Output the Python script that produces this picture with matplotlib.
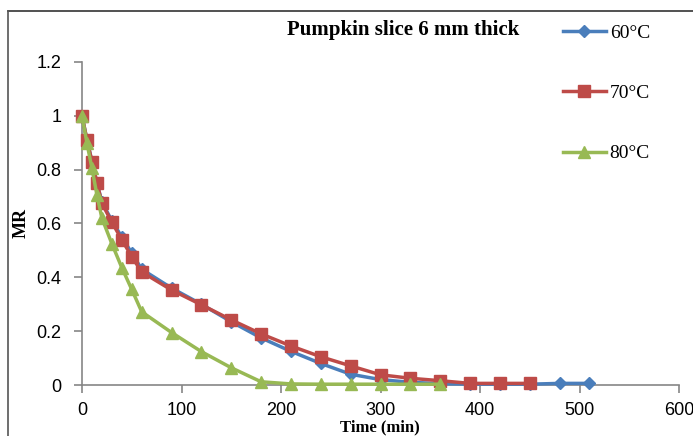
import matplotlib.pyplot as plt
from matplotlib.lines import Line2D

# 数据
t_60 = [0, 5, 10, 15, 20, 30, 40, 50, 60, 90, 120, 150, 180, 210, 240, 270, 300, 330, 360, 390, 420, 450, 480, 510]
mr_60 = [1.0, 0.91, 0.83, 0.75, 0.68, 0.61, 0.55, 0.49, 0.43, 0.36, 0.30, 0.235, 0.175, 0.125, 0.08,
         0.04, 0.02, 0.01, 0.005, 0.003, 0.003, 0.003, 0.006, 0.006]
t_70 = [0, 5, 10, 15, 20, 30, 40, 50, 60, 90, 120, 150, 180, 210, 240, 270, 300, 330, 360, 390, 420, 450]
mr_70 = [1.0, 0.91, 0.83, 0.752, 0.675, 0.605, 0.54, 0.477, 0.42, 0.353, 0.298, 0.242, 0.19, 0.145,
         0.105, 0.071, 0.038, 0.025, 0.016, 0.006, 0.006, 0.006]
t_80 = [0, 5, 10, 15, 20, 30, 40, 50, 60, 90, 120, 150, 180, 210, 240, 270, 300, 330, 360]
mr_80 = [1.0, 0.898, 0.805, 0.706, 0.62, 0.525, 0.436, 0.355, 0.272, 0.195, 0.124, 0.064, 0.012,
         0.004, 0.003, 0.003, 0.003, 0.003, 0.003]

x_ticks = [0, 100, 200, 300, 400, 500, 600]
y_ticks = [0, 0.2, 0.4, 0.6, 0.8, 1, 1.2]
y_tick_labels = ['0', '0.2', '0.4', '0.6', '0.8', '1', '1.2']

W, H = 693, 436
fig = plt.figure(figsize=(W / 100, H / 100), dpi=100)
ax = fig.add_axes([82 / W, 51 / H, 597 / W, 323 / H])

ax.plot(t_60, mr_60, color='#4A7EBB', lw=2.5, marker='D', ms=6, label='60°C', zorder=3)
ax.plot(t_70, mr_70, color='#BE4B48', lw=2.5, marker='s', ms=8, label='70°C', zorder=4)
ax.plot(t_80, mr_80, color='#98B954', lw=2.5, marker='^', ms=8.5, label='80°C', zorder=5)

ax.set_xlim(0, 600)
ax.set_ylim(0, 1.2)
ax.set_xticks(x_ticks)
ax.set_yticks(y_ticks)
ax.set_yticklabels(y_tick_labels)
ax.tick_params(colors='#868686', labelcolor='black', labelsize=13, length=6, width=1.2, direction='out')
ax.tick_params(axis='y', pad=9)
ax.tick_params(axis='x', pad=6)
for lab in ax.get_xticklabels() + ax.get_yticklabels():
    lab.set_family('Liberation Sans')
for s in ['top', 'right']:
    ax.spines[s].set_visible(False)
for s in ['left', 'bottom']:
    ax.spines[s].set_color('#868686')
    ax.spines[s].set_linewidth(1.2)
for line in ax.lines:
    line.set_clip_on(False)

# 轴标题
fig.text(21 / W, 1 - 223 / H, 'MR', family='Liberation Serif', fontweight='bold', fontsize=13,
         rotation=90, ha='center', va='center')
fig.text(380 / W, 1 - 435.5 / H, 'Time (min)', family='Liberation Serif', fontweight='bold', fontsize=12,
         ha='center', va='bottom')

fig.text(403 / W, 1 - 30 / H, 'Pumpkin slice 6 mm thick', family='Liberation Serif',
         fontweight='bold', fontsize=15, ha='center', va='center')

fig.legend(loc='upper left', bbox_to_anchor=(563 / W, 1 - 24 / H), frameon=False,
           prop={'family': 'Liberation Serif', 'size': 14}, labelspacing=2.2,
           handlelength=2.2, handletextpad=0.2, borderpad=0, borderaxespad=0)

# 外框
fig.add_artist(Line2D([8 / W, 1.01], [1 - 11.5 / H, 1 - 11.5 / H], color='#333333', lw=1.2))
fig.add_artist(Line2D([8 / W, 8 / W], [-0.01, 1 - 11.5 / H], color='#555555', lw=1.2))

fig.savefig('out.png', dpi=100)
